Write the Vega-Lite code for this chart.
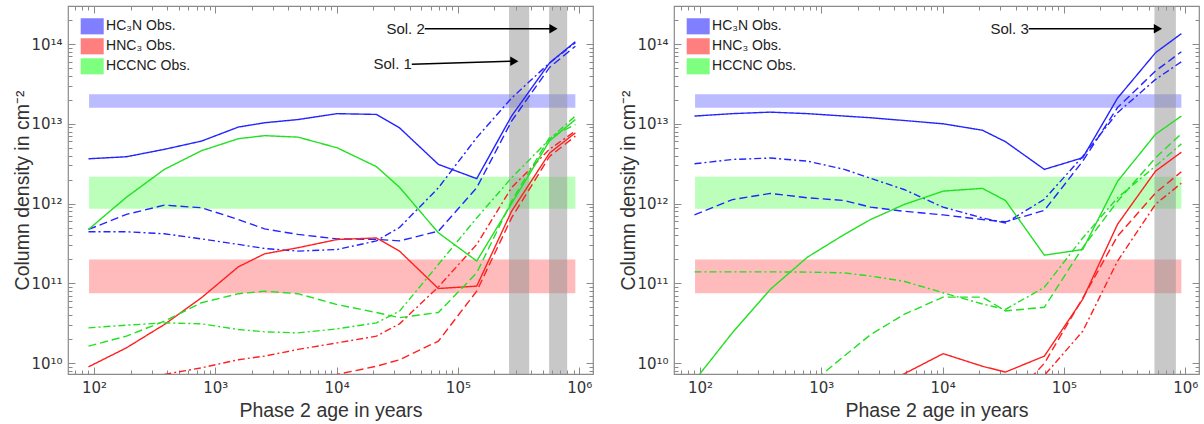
{
  "$schema": "https://vega.github.io/schema/vega-lite/v6.json",
  "background": "white",
  "padding": {"left": 12, "top": 4, "right": 0, "bottom": 0},
  "spacing": 23,
  "config": {
    "view": {"stroke": "#8a8a8a", "strokeWidth": 1.2},
    "font": "Liberation Sans",
    "axis": {"grid": false, "domain": false, "tickColor": "#8a8a8a", "tickWidth": 1, "labelFont": "DejaVu Sans", "labelFontSize": 15, "labelColor": "#333333", "titleFont": "Liberation Sans", "titleFontSize": 19.5, "titleFontWeight": "normal", "titleColor": "#333333", "labelOverlap": false, "labelFlush": false, "labelBound": false},
    "legend": {"orient": "none", "legendX": 12.7, "legendY": 8.8, "padding": 0, "title": null, "symbolType": "M-1,-0.7L1,-0.7L1,0.7L-1,0.7Z", "symbolSize": 529, "symbolStrokeWidth": 0, "symbolOpacity": 1, "labelFont": "Liberation Sans", "labelFontSize": 14, "labelColor": "#222222", "rowPadding": -2.75, "labelOffset": 2.4}
  },
  "datasets": {
    "obs": [
      {"sp": "HC₃N Obs.", "t0": 91, "t1": 930000, "n0": 1.59e13, "n1": 2.34e13},
      {"sp": "HNC₃ Obs.", "t0": 91, "t1": 930000, "n0": 7.5e10, "n1": 1.99e11},
      {"sp": "HCCNC Obs.", "t0": 91, "t1": 930000, "n0": 8.6e11, "n1": 2.16e12}
    ],
    "sol": [
      {"p": "L", "t0": 264000, "t1": 387000},
      {"p": "L", "t0": 565000, "t1": 796000},
      {"p": "R", "t0": 558000, "t1": 838000}
    ],
    "arrows": [
      {"p": "L", "label": "Sol. 1", "t0": 41700, "n0": 5.56e13, "t1": 292000, "n1": 6.1e13},
      {"p": "L", "label": "Sol. 2", "t0": 53300, "n0": 1.56e14, "t1": 614000, "n1": 1.56e14},
      {"p": "R", "label": "Sol. 3", "t0": 51300, "n0": 1.56e14, "t1": 596000, "n1": 1.56e14}
    ],
    "lines": [
      {"p":"L","s":"HC3N","m":"solid","t":90,"n":3.64e12},{"p":"L","s":"HC3N","m":"solid","t":185,"n":3.86e12},{"p":"L","s":"HC3N","m":"solid","t":380,"n":4.78e12},{"p":"L","s":"HC3N","m":"solid","t":770,"n":6.07e12},{"p":"L","s":"HC3N","m":"solid","t":1550,"n":9.1e12},{"p":"L","s":"HC3N","m":"solid","t":2550,"n":1.03e13},{"p":"L","s":"HC3N","m":"solid","t":4800,"n":1.13e13},{"p":"L","s":"HC3N","m":"solid","t":10100,"n":1.34e13},{"p":"L","s":"HC3N","m":"solid","t":21300,"n":1.31e13},{"p":"L","s":"HC3N","m":"solid","t":33000,"n":8.9e12},{"p":"L","s":"HC3N","m":"solid","t":69000,"n":3.1e12},{"p":"L","s":"HC3N","m":"solid","t":143000,"n":2.05e12},{"p":"L","s":"HC3N","m":"solid","t":277000,"n":1.25e13},{"p":"L","s":"HC3N","m":"solid","t":570000,"n":5.8e13},{"p":"L","s":"HC3N","m":"solid","t":930000,"n":1.07e14},
      {"p":"L","s":"HC3N","m":"dash","t":90,"n":4.73e11},{"p":"L","s":"HC3N","m":"dash","t":185,"n":7.3e11},{"p":"L","s":"HC3N","m":"dash","t":380,"n":9.55e11},{"p":"L","s":"HC3N","m":"dash","t":770,"n":8.85e11},{"p":"L","s":"HC3N","m":"dash","t":1550,"n":6.3e11},{"p":"L","s":"HC3N","m":"dash","t":2550,"n":4.8e11},{"p":"L","s":"HC3N","m":"dash","t":4800,"n":4.1e11},{"p":"L","s":"HC3N","m":"dash","t":10100,"n":3.6e11},{"p":"L","s":"HC3N","m":"dash","t":21300,"n":3.55e11},{"p":"L","s":"HC3N","m":"dash","t":33000,"n":3.4e11},{"p":"L","s":"HC3N","m":"dash","t":69000,"n":4.5e11},{"p":"L","s":"HC3N","m":"dash","t":143000,"n":1.58e12},{"p":"L","s":"HC3N","m":"dash","t":277000,"n":1.08e13},{"p":"L","s":"HC3N","m":"dash","t":570000,"n":5.1e13},{"p":"L","s":"HC3N","m":"dash","t":930000,"n":9.4e13},
      {"p":"L","s":"HC3N","m":"dashdot","t":90,"n":4.43e11},{"p":"L","s":"HC3N","m":"dashdot","t":185,"n":4.43e11},{"p":"L","s":"HC3N","m":"dashdot","t":380,"n":4.17e11},{"p":"L","s":"HC3N","m":"dashdot","t":770,"n":3.6e11},{"p":"L","s":"HC3N","m":"dashdot","t":1550,"n":3.07e11},{"p":"L","s":"HC3N","m":"dashdot","t":2550,"n":2.73e11},{"p":"L","s":"HC3N","m":"dashdot","t":4800,"n":2.53e11},{"p":"L","s":"HC3N","m":"dashdot","t":10100,"n":2.65e11},{"p":"L","s":"HC3N","m":"dashdot","t":21300,"n":3.4e11},{"p":"L","s":"HC3N","m":"dashdot","t":33000,"n":5.0e11},{"p":"L","s":"HC3N","m":"dashdot","t":69000,"n":1.57e12},{"p":"L","s":"HC3N","m":"dashdot","t":143000,"n":6.7e12},{"p":"L","s":"HC3N","m":"dashdot","t":277000,"n":2.1e13},{"p":"L","s":"HC3N","m":"dashdot","t":570000,"n":5.8e13},{"p":"L","s":"HC3N","m":"dashdot","t":930000,"n":1.04e14},
      {"p":"L","s":"HNC3","m":"solid","t":90,"n":8.95e9},{"p":"L","s":"HNC3","m":"solid","t":185,"n":1.55e10},{"p":"L","s":"HNC3","m":"solid","t":380,"n":3.04e10},{"p":"L","s":"HNC3","m":"solid","t":770,"n":6.6e10},{"p":"L","s":"HNC3","m":"solid","t":1550,"n":1.61e11},{"p":"L","s":"HNC3","m":"solid","t":2550,"n":2.34e11},{"p":"L","s":"HNC3","m":"solid","t":4800,"n":2.79e11},{"p":"L","s":"HNC3","m":"solid","t":10100,"n":3.54e11},{"p":"L","s":"HNC3","m":"solid","t":21300,"n":3.7e11},{"p":"L","s":"HNC3","m":"solid","t":33000,"n":2.53e11},{"p":"L","s":"HNC3","m":"solid","t":69000,"n":8.6e10},{"p":"L","s":"HNC3","m":"solid","t":143000,"n":9.2e10},{"p":"L","s":"HNC3","m":"solid","t":277000,"n":8.0e11},{"p":"L","s":"HNC3","m":"solid","t":570000,"n":4.3e12},{"p":"L","s":"HNC3","m":"solid","t":930000,"n":7.7e12},
      {"p":"L","s":"HNC3","m":"dash","t":4800,"n":5.0e9},{"p":"L","s":"HNC3","m":"dash","t":10100,"n":7.2e9},{"p":"L","s":"HNC3","m":"dash","t":21300,"n":9.1e9},{"p":"L","s":"HNC3","m":"dash","t":33000,"n":1.1e10},{"p":"L","s":"HNC3","m":"dash","t":69000,"n":1.88e10},{"p":"L","s":"HNC3","m":"dash","t":143000,"n":7.96e10},{"p":"L","s":"HNC3","m":"dash","t":277000,"n":6.6e11},{"p":"L","s":"HNC3","m":"dash","t":570000,"n":3.9e12},{"p":"L","s":"HNC3","m":"dash","t":930000,"n":7.0e12},
      {"p":"L","s":"HNC3","m":"dashdot","t":380,"n":7.2e9},{"p":"L","s":"HNC3","m":"dashdot","t":770,"n":8.7e9},{"p":"L","s":"HNC3","m":"dashdot","t":1550,"n":1.1e10},{"p":"L","s":"HNC3","m":"dashdot","t":2550,"n":1.22e10},{"p":"L","s":"HNC3","m":"dashdot","t":4800,"n":1.48e10},{"p":"L","s":"HNC3","m":"dashdot","t":10100,"n":1.79e10},{"p":"L","s":"HNC3","m":"dashdot","t":21300,"n":2.17e10},{"p":"L","s":"HNC3","m":"dashdot","t":33000,"n":3.1e10},{"p":"L","s":"HNC3","m":"dashdot","t":69000,"n":9.0e10},{"p":"L","s":"HNC3","m":"dashdot","t":143000,"n":3.07e11},{"p":"L","s":"HNC3","m":"dashdot","t":277000,"n":1.58e12},{"p":"L","s":"HNC3","m":"dashdot","t":570000,"n":4.8e12},{"p":"L","s":"HNC3","m":"dashdot","t":930000,"n":8.1e12},
      {"p":"L","s":"HCCNC","m":"solid","t":90,"n":4.73e11},{"p":"L","s":"HCCNC","m":"solid","t":185,"n":1.2e12},{"p":"L","s":"HCCNC","m":"solid","t":380,"n":2.68e12},{"p":"L","s":"HCCNC","m":"solid","t":770,"n":4.6e12},{"p":"L","s":"HCCNC","m":"solid","t":1550,"n":6.5e12},{"p":"L","s":"HCCNC","m":"solid","t":2550,"n":7.1e12},{"p":"L","s":"HCCNC","m":"solid","t":4800,"n":6.8e12},{"p":"L","s":"HCCNC","m":"solid","t":10100,"n":5.0e12},{"p":"L","s":"HCCNC","m":"solid","t":21300,"n":2.9e12},{"p":"L","s":"HCCNC","m":"solid","t":33000,"n":1.6e12},{"p":"L","s":"HCCNC","m":"solid","t":69000,"n":4.3e11},{"p":"L","s":"HCCNC","m":"solid","t":143000,"n":1.9e11},{"p":"L","s":"HCCNC","m":"solid","t":277000,"n":1.0e12},{"p":"L","s":"HCCNC","m":"solid","t":570000,"n":6.1e12},{"p":"L","s":"HCCNC","m":"solid","t":930000,"n":1.13e13},
      {"p":"L","s":"HCCNC","m":"dash","t":90,"n":1.63e10},{"p":"L","s":"HCCNC","m":"dash","t":185,"n":2.17e10},{"p":"L","s":"HCCNC","m":"dash","t":380,"n":3.35e10},{"p":"L","s":"HCCNC","m":"dash","t":770,"n":5.7e10},{"p":"L","s":"HCCNC","m":"dash","t":1550,"n":7.4e10},{"p":"L","s":"HCCNC","m":"dash","t":2550,"n":7.96e10},{"p":"L","s":"HCCNC","m":"dash","t":4800,"n":7.4e10},{"p":"L","s":"HCCNC","m":"dash","t":10100,"n":5.4e10},{"p":"L","s":"HCCNC","m":"dash","t":21300,"n":4.3e10},{"p":"L","s":"HCCNC","m":"dash","t":33000,"n":3.7e10},{"p":"L","s":"HCCNC","m":"dash","t":69000,"n":4.3e10},{"p":"L","s":"HCCNC","m":"dash","t":143000,"n":1.35e11},{"p":"L","s":"HCCNC","m":"dash","t":277000,"n":1.07e12},{"p":"L","s":"HCCNC","m":"dash","t":570000,"n":6.7e12},{"p":"L","s":"HCCNC","m":"dash","t":930000,"n":9.8e12},
      {"p":"L","s":"HCCNC","m":"dashdot","t":90,"n":2.76e10},{"p":"L","s":"HCCNC","m":"dashdot","t":185,"n":2.98e10},{"p":"L","s":"HCCNC","m":"dashdot","t":380,"n":3.19e10},{"p":"L","s":"HCCNC","m":"dashdot","t":770,"n":3.1e10},{"p":"L","s":"HCCNC","m":"dashdot","t":1550,"n":2.63e10},{"p":"L","s":"HCCNC","m":"dashdot","t":2550,"n":2.46e10},{"p":"L","s":"HCCNC","m":"dashdot","t":4800,"n":2.39e10},{"p":"L","s":"HCCNC","m":"dashdot","t":10100,"n":2.68e10},{"p":"L","s":"HCCNC","m":"dashdot","t":21300,"n":3.19e10},{"p":"L","s":"HCCNC","m":"dashdot","t":33000,"n":4.47e10},{"p":"L","s":"HCCNC","m":"dashdot","t":69000,"n":1.72e11},{"p":"L","s":"HCCNC","m":"dashdot","t":143000,"n":6.6e11},{"p":"L","s":"HCCNC","m":"dashdot","t":277000,"n":2.1e12},{"p":"L","s":"HCCNC","m":"dashdot","t":570000,"n":6.4e12},{"p":"L","s":"HCCNC","m":"dashdot","t":930000,"n":1.25e13},
      {"p":"R","s":"HC3N","m":"solid","t":90,"n":1.25e13},{"p":"R","s":"HC3N","m":"solid","t":185,"n":1.34e13},{"p":"R","s":"HC3N","m":"solid","t":380,"n":1.40e13},{"p":"R","s":"HC3N","m":"solid","t":770,"n":1.34e13},{"p":"R","s":"HC3N","m":"solid","t":1550,"n":1.25e13},{"p":"R","s":"HC3N","m":"solid","t":2550,"n":1.19e13},{"p":"R","s":"HC3N","m":"solid","t":4800,"n":1.10e13},{"p":"R","s":"HC3N","m":"solid","t":10100,"n":1.0e13},{"p":"R","s":"HC3N","m":"solid","t":21300,"n":8.3e12},{"p":"R","s":"HC3N","m":"solid","t":33000,"n":5.96e12},{"p":"R","s":"HC3N","m":"solid","t":69000,"n":2.68e12},{"p":"R","s":"HC3N","m":"solid","t":143000,"n":3.75e12},{"p":"R","s":"HC3N","m":"solid","t":277000,"n":2.1e13},{"p":"R","s":"HC3N","m":"solid","t":570000,"n":7.8e13},{"p":"R","s":"HC3N","m":"solid","t":930000,"n":1.35e14},
      {"p":"R","s":"HC3N","m":"dash","t":90,"n":7.2e11},{"p":"R","s":"HC3N","m":"dash","t":185,"n":1.12e12},{"p":"R","s":"HC3N","m":"dash","t":380,"n":1.34e12},{"p":"R","s":"HC3N","m":"dash","t":770,"n":1.18e12},{"p":"R","s":"HC3N","m":"dash","t":1550,"n":1.09e12},{"p":"R","s":"HC3N","m":"dash","t":2550,"n":9.0e11},{"p":"R","s":"HC3N","m":"dash","t":4800,"n":8.0e11},{"p":"R","s":"HC3N","m":"dash","t":10100,"n":7.2e11},{"p":"R","s":"HC3N","m":"dash","t":21300,"n":6.3e11},{"p":"R","s":"HC3N","m":"dash","t":33000,"n":5.9e11},{"p":"R","s":"HC3N","m":"dash","t":69000,"n":8.2e11},{"p":"R","s":"HC3N","m":"dash","t":143000,"n":3.4e12},{"p":"R","s":"HC3N","m":"dash","t":277000,"n":1.6e13},{"p":"R","s":"HC3N","m":"dash","t":570000,"n":4.6e13},{"p":"R","s":"HC3N","m":"dash","t":930000,"n":8.0e13},
      {"p":"R","s":"HC3N","m":"dashdot","t":90,"n":3.15e12},{"p":"R","s":"HC3N","m":"dashdot","t":185,"n":3.57e12},{"p":"R","s":"HC3N","m":"dashdot","t":380,"n":3.72e12},{"p":"R","s":"HC3N","m":"dashdot","t":770,"n":3.4e12},{"p":"R","s":"HC3N","m":"dashdot","t":1550,"n":2.68e12},{"p":"R","s":"HC3N","m":"dashdot","t":2550,"n":2.07e12},{"p":"R","s":"HC3N","m":"dashdot","t":4800,"n":1.5e12},{"p":"R","s":"HC3N","m":"dashdot","t":10100,"n":9.0e11},{"p":"R","s":"HC3N","m":"dashdot","t":21300,"n":6.6e11},{"p":"R","s":"HC3N","m":"dashdot","t":33000,"n":5.7e11},{"p":"R","s":"HC3N","m":"dashdot","t":69000,"n":1.13e12},{"p":"R","s":"HC3N","m":"dashdot","t":143000,"n":3.9e12},{"p":"R","s":"HC3N","m":"dashdot","t":277000,"n":1.38e13},{"p":"R","s":"HC3N","m":"dashdot","t":570000,"n":3.6e13},{"p":"R","s":"HC3N","m":"dashdot","t":930000,"n":6.0e13},
      {"p":"R","s":"HNC3","m":"solid","t":2550,"n":4.0e9},{"p":"R","s":"HNC3","m":"solid","t":4800,"n":7.3e9},{"p":"R","s":"HNC3","m":"solid","t":10100,"n":1.31e10},{"p":"R","s":"HNC3","m":"solid","t":21300,"n":9.1e9},{"p":"R","s":"HNC3","m":"solid","t":33000,"n":7.7e9},{"p":"R","s":"HNC3","m":"solid","t":69000,"n":1.22e10},{"p":"R","s":"HNC3","m":"solid","t":143000,"n":6.3e10},{"p":"R","s":"HNC3","m":"solid","t":277000,"n":5.5e11},{"p":"R","s":"HNC3","m":"solid","t":570000,"n":2.55e12},{"p":"R","s":"HNC3","m":"solid","t":930000,"n":4.4e12},
      {"p":"R","s":"HNC3","m":"dash","t":33000,"n":3.0e9},{"p":"R","s":"HNC3","m":"dash","t":69000,"n":9.9e9},{"p":"R","s":"HNC3","m":"dash","t":143000,"n":6.5e10},{"p":"R","s":"HNC3","m":"dash","t":277000,"n":3.9e11},{"p":"R","s":"HNC3","m":"dash","t":570000,"n":1.36e12},{"p":"R","s":"HNC3","m":"dash","t":930000,"n":2.5e12},
      {"p":"R","s":"HNC3","m":"dashdot","t":33000,"n":2.0e9},{"p":"R","s":"HNC3","m":"dashdot","t":69000,"n":7.0e9},{"p":"R","s":"HNC3","m":"dashdot","t":143000,"n":2.5e10},{"p":"R","s":"HNC3","m":"dashdot","t":277000,"n":1.9e11},{"p":"R","s":"HNC3","m":"dashdot","t":570000,"n":9.8e11},{"p":"R","s":"HNC3","m":"dashdot","t":930000,"n":1.8e12},
      {"p":"R","s":"HCCNC","m":"solid","t":90,"n":6.0e9},{"p":"R","s":"HCCNC","m":"solid","t":185,"n":2.4e10},{"p":"R","s":"HCCNC","m":"solid","t":380,"n":8.4e10},{"p":"R","s":"HCCNC","m":"solid","t":770,"n":2.13e11},{"p":"R","s":"HCCNC","m":"solid","t":1550,"n":4.1e11},{"p":"R","s":"HCCNC","m":"solid","t":2550,"n":6.3e11},{"p":"R","s":"HCCNC","m":"solid","t":4800,"n":9.7e11},{"p":"R","s":"HCCNC","m":"solid","t":10100,"n":1.43e12},{"p":"R","s":"HCCNC","m":"solid","t":21300,"n":1.55e12},{"p":"R","s":"HCCNC","m":"solid","t":33000,"n":1.09e12},{"p":"R","s":"HCCNC","m":"solid","t":69000,"n":2.25e11},{"p":"R","s":"HCCNC","m":"solid","t":143000,"n":2.65e11},{"p":"R","s":"HCCNC","m":"solid","t":277000,"n":1.9e12},{"p":"R","s":"HCCNC","m":"solid","t":570000,"n":7.4e12},{"p":"R","s":"HCCNC","m":"solid","t":930000,"n":1.25e13},
      {"p":"R","s":"HCCNC","m":"dash","t":770,"n":5.1e9},{"p":"R","s":"HCCNC","m":"dash","t":1550,"n":1.23e10},{"p":"R","s":"HCCNC","m":"dash","t":2550,"n":2.27e10},{"p":"R","s":"HCCNC","m":"dash","t":4800,"n":4.06e10},{"p":"R","s":"HCCNC","m":"dash","t":10100,"n":6.7e10},{"p":"R","s":"HCCNC","m":"dash","t":21300,"n":6.7e10},{"p":"R","s":"HCCNC","m":"dash","t":33000,"n":4.5e10},{"p":"R","s":"HCCNC","m":"dash","t":69000,"n":5.0e10},{"p":"R","s":"HCCNC","m":"dash","t":143000,"n":2.8e11},{"p":"R","s":"HCCNC","m":"dash","t":277000,"n":1.07e12},{"p":"R","s":"HCCNC","m":"dash","t":570000,"n":3.75e12},{"p":"R","s":"HCCNC","m":"dash","t":930000,"n":7.5e12},
      {"p":"R","s":"HCCNC","m":"dashdot","t":90,"n":1.39e11},{"p":"R","s":"HCCNC","m":"dashdot","t":185,"n":1.39e11},{"p":"R","s":"HCCNC","m":"dashdot","t":380,"n":1.39e11},{"p":"R","s":"HCCNC","m":"dashdot","t":770,"n":1.38e11},{"p":"R","s":"HCCNC","m":"dashdot","t":1550,"n":1.35e11},{"p":"R","s":"HCCNC","m":"dashdot","t":2550,"n":1.23e11},{"p":"R","s":"HCCNC","m":"dashdot","t":4800,"n":1.06e11},{"p":"R","s":"HCCNC","m":"dashdot","t":10100,"n":7.6e10},{"p":"R","s":"HCCNC","m":"dashdot","t":21300,"n":5.5e10},{"p":"R","s":"HCCNC","m":"dashdot","t":33000,"n":4.7e10},{"p":"R","s":"HCCNC","m":"dashdot","t":69000,"n":8.9e10},{"p":"R","s":"HCCNC","m":"dashdot","t":143000,"n":3.7e11},{"p":"R","s":"HCCNC","m":"dashdot","t":277000,"n":1.18e12},{"p":"R","s":"HCCNC","m":"dashdot","t":570000,"n":2.95e12},{"p":"R","s":"HCCNC","m":"dashdot","t":930000,"n":5.6e12}
    ]
  },
  "resolve": {"scale": {"fill": "independent"}, "legend": {"fill": "independent"}},
  "hconcat": [
    {
      "width": 525, "height": 368,
      "resolve": {"axis": {"x": "independent", "y": "independent"}},
      "layer": [
        {
          "data": {"name": "obs"},
          "mark": {"type": "rect", "fillOpacity": 0.53},
          "encoding": {
            "x": {"field": "t0", "type": "quantitative", "scale": {"type": "log", "domain": [61, 1300000], "nice": false},
              "axis": {"orient": "bottom", "values": [70,80,90,100,200,300,400,500,600,700,800,900,1000,2000,3000,4000,5000,6000,7000,8000,9000,10000,20000,30000,40000,50000,60000,70000,80000,90000,100000,200000,300000,400000,500000,600000,700000,800000,900000,1000000],
                "labelExpr": "abs(log(datum.value)/LN10 - round(log(datum.value)/LN10)) < 0.000001 ? ['10⁰','10¹','10²','10³','10⁴','10⁵','10⁶','10⁷','10⁸','10⁹','10¹⁰','10¹¹','10¹²','10¹³','10¹⁴'][round(log(datum.value)/LN10)] : ''",
                "tickSize": {"condition": {"test": "abs(log(datum.value)/LN10 - round(log(datum.value)/LN10)) < 0.000001", "value": -7}, "value": -4},
                "labelPadding": 13, "title": "Phase 2 age in years", "titlePadding": 3}},
            "x2": {"field": "t1"},
            "y": {"field": "n0", "type": "quantitative", "scale": {"type": "log", "domain": [7.28e9, 3.0e14], "nice": false},
              "axis": {"orient": "left", "values": [8e9,9e9,1e10,2e10,3e10,4e10,5e10,6e10,7e10,8e10,9e10,1e11,2e11,3e11,4e11,5e11,6e11,7e11,8e11,9e11,1e12,2e12,3e12,4e12,5e12,6e12,7e12,8e12,9e12,1e13,2e13,3e13,4e13,5e13,6e13,7e13,8e13,9e13,1e14,2e14],
                "labelExpr": "abs(log(datum.value)/LN10 - round(log(datum.value)/LN10)) < 0.000001 ? ['10⁰','10¹','10²','10³','10⁴','10⁵','10⁶','10⁷','10⁸','10⁹','10¹⁰','10¹¹','10¹²','10¹³','10¹⁴'][round(log(datum.value)/LN10)] : ''",
                "tickSize": {"condition": {"test": "abs(log(datum.value)/LN10 - round(log(datum.value)/LN10)) < 0.000001", "value": -7}, "value": -4},
                "labelPadding": 13, "title": "Column density in cm⁻²", "titlePadding": -2}},
            "y2": {"field": "n1"},
            "fill": {"field": "sp", "type": "nominal", "scale": {"domain": ["HC₃N Obs.", "HNC₃ Obs.", "HCCNC Obs."], "range": ["#7f7fff", "#ff7f7f", "#7fff7f"]}}
          }
        },
        {
          "data": {"name": "sol"},
          "transform": [{"filter": "datum.p == 'L'"}],
          "mark": {"type": "rect", "fill": "#919191", "opacity": 0.5},
          "encoding": {
            "x": {"field": "t0", "type": "quantitative", "scale": {"type": "log", "domain": [61, 1300000], "nice": false}, "axis": null},
            "x2": {"field": "t1"}
          }
        },
        {
          "data": {"name": "lines"},
          "transform": [{"filter": "datum.p == 'L'"}],
          "mark": {"type": "line", "clip": true, "strokeWidth": 1.4},
          "encoding": {
            "x": {"field": "t", "type": "quantitative", "scale": {"type": "log", "domain": [61, 1300000], "nice": false},
              "axis": {"orient": "top", "labels": false, "title": null, "values": [70,80,90,100,200,300,400,500,600,700,800,900,1000,2000,3000,4000,5000,6000,7000,8000,9000,10000,20000,30000,40000,50000,60000,70000,80000,90000,100000,200000,300000,400000,500000,600000,700000,800000,900000,1000000],
                "tickSize": {"condition": {"test": "abs(log(datum.value)/LN10 - round(log(datum.value)/LN10)) < 0.000001", "value": -7}, "value": -4}}},
            "y": {"field": "n", "type": "quantitative", "scale": {"type": "log", "domain": [7.28e9, 3.0e14], "nice": false},
              "axis": {"orient": "right", "labels": false, "title": null, "values": [8e9,9e9,1e10,2e10,3e10,4e10,5e10,6e10,7e10,8e10,9e10,1e11,2e11,3e11,4e11,5e11,6e11,7e11,8e11,9e11,1e12,2e12,3e12,4e12,5e12,6e12,7e12,8e12,9e12,1e13,2e13,3e13,4e13,5e13,6e13,7e13,8e13,9e13,1e14,2e14],
                "tickSize": {"condition": {"test": "abs(log(datum.value)/LN10 - round(log(datum.value)/LN10)) < 0.000001", "value": -7}, "value": -4}}},
            "stroke": {"field": "s", "type": "nominal", "scale": {"domain": ["HC3N", "HNC3", "HCCNC"], "range": ["#2424ff", "#ff2020", "#22e022"]}, "legend": null},
            "strokeDash": {"field": "m", "type": "nominal", "scale": {"domain": ["solid", "dash", "dashdot"], "range": [[1, 0], [8, 4], [7, 3, 2, 3]]}, "legend": null}
          }
        },
        {
          "data": {"name": "arrows"},
          "transform": [{"filter": "datum.p == 'L'"}],
          "mark": {"type": "rule", "color": "black", "strokeWidth": 1.5},
          "encoding": {
            "x": {"field": "t0", "type": "quantitative", "scale": {"type": "log", "domain": [61, 1300000], "nice": false}, "axis": null},
            "x2": {"field": "t1"},
            "y": {"field": "n0", "type": "quantitative", "scale": {"type": "log", "domain": [7.28e9, 3.0e14], "nice": false}, "axis": null},
            "y2": {"field": "n1"}
          }
        },
        {
          "data": {"name": "arrows"},
          "transform": [{"filter": "datum.p == 'L'"}],
          "mark": {"type": "point", "shape": "triangle-right", "filled": true, "size": 90, "color": "black", "opacity": 1},
          "encoding": {
            "x": {"field": "t1", "type": "quantitative", "scale": {"type": "log", "domain": [61, 1300000], "nice": false}, "axis": null},
            "y": {"field": "n1", "type": "quantitative", "scale": {"type": "log", "domain": [7.28e9, 3.0e14], "nice": false}, "axis": null}
          }
        },
        {
          "data": {"name": "arrows"},
          "transform": [{"filter": "datum.p == 'L'"}],
          "mark": {"type": "text", "align": "right", "baseline": "middle", "fontSize": 15, "font": "Liberation Sans", "color": "#222222"},
          "encoding": {
            "x": {"field": "t0", "type": "quantitative", "scale": {"type": "log", "domain": [61, 1300000], "nice": false}, "axis": null},
            "y": {"field": "n0", "type": "quantitative", "scale": {"type": "log", "domain": [7.28e9, 3.0e14], "nice": false}, "axis": null},
            "text": {"field": "label"}
          }
        }
      ]
    },
    {
      "width": 525, "height": 368,
      "resolve": {"axis": {"x": "independent", "y": "independent"}},
      "layer": [
        {
          "data": {"name": "obs"},
          "mark": {"type": "rect", "fillOpacity": 0.53},
          "encoding": {
            "x": {"field": "t0", "type": "quantitative", "scale": {"type": "log", "domain": [61, 1300000], "nice": false},
              "axis": {"orient": "bottom", "values": [70,80,90,100,200,300,400,500,600,700,800,900,1000,2000,3000,4000,5000,6000,7000,8000,9000,10000,20000,30000,40000,50000,60000,70000,80000,90000,100000,200000,300000,400000,500000,600000,700000,800000,900000,1000000],
                "labelExpr": "abs(log(datum.value)/LN10 - round(log(datum.value)/LN10)) < 0.000001 ? ['10⁰','10¹','10²','10³','10⁴','10⁵','10⁶','10⁷','10⁸','10⁹','10¹⁰','10¹¹','10¹²','10¹³','10¹⁴'][round(log(datum.value)/LN10)] : ''",
                "tickSize": {"condition": {"test": "abs(log(datum.value)/LN10 - round(log(datum.value)/LN10)) < 0.000001", "value": -7}, "value": -4},
                "labelPadding": 13, "title": "Phase 2 age in years", "titlePadding": 3}},
            "x2": {"field": "t1"},
            "y": {"field": "n0", "type": "quantitative", "scale": {"type": "log", "domain": [7.28e9, 3.0e14], "nice": false},
              "axis": {"orient": "left", "values": [8e9,9e9,1e10,2e10,3e10,4e10,5e10,6e10,7e10,8e10,9e10,1e11,2e11,3e11,4e11,5e11,6e11,7e11,8e11,9e11,1e12,2e12,3e12,4e12,5e12,6e12,7e12,8e12,9e12,1e13,2e13,3e13,4e13,5e13,6e13,7e13,8e13,9e13,1e14,2e14],
                "labelExpr": "abs(log(datum.value)/LN10 - round(log(datum.value)/LN10)) < 0.000001 ? ['10⁰','10¹','10²','10³','10⁴','10⁵','10⁶','10⁷','10⁸','10⁹','10¹⁰','10¹¹','10¹²','10¹³','10¹⁴'][round(log(datum.value)/LN10)] : ''",
                "tickSize": {"condition": {"test": "abs(log(datum.value)/LN10 - round(log(datum.value)/LN10)) < 0.000001", "value": -7}, "value": -4},
                "labelPadding": 13, "title": "Column density in cm⁻²", "titlePadding": -2}},
            "y2": {"field": "n1"},
            "fill": {"field": "sp", "type": "nominal", "scale": {"domain": ["HC₃N Obs.", "HNC₃ Obs.", "HCCNC Obs."], "range": ["#7f7fff", "#ff7f7f", "#7fff7f"]}}
          }
        },
        {
          "data": {"name": "sol"},
          "transform": [{"filter": "datum.p == 'R'"}],
          "mark": {"type": "rect", "fill": "#919191", "opacity": 0.5},
          "encoding": {
            "x": {"field": "t0", "type": "quantitative", "scale": {"type": "log", "domain": [61, 1300000], "nice": false}, "axis": null},
            "x2": {"field": "t1"}
          }
        },
        {
          "data": {"name": "lines"},
          "transform": [{"filter": "datum.p == 'R'"}],
          "mark": {"type": "line", "clip": true, "strokeWidth": 1.4},
          "encoding": {
            "x": {"field": "t", "type": "quantitative", "scale": {"type": "log", "domain": [61, 1300000], "nice": false},
              "axis": {"orient": "top", "labels": false, "title": null, "values": [70,80,90,100,200,300,400,500,600,700,800,900,1000,2000,3000,4000,5000,6000,7000,8000,9000,10000,20000,30000,40000,50000,60000,70000,80000,90000,100000,200000,300000,400000,500000,600000,700000,800000,900000,1000000],
                "tickSize": {"condition": {"test": "abs(log(datum.value)/LN10 - round(log(datum.value)/LN10)) < 0.000001", "value": -7}, "value": -4}}},
            "y": {"field": "n", "type": "quantitative", "scale": {"type": "log", "domain": [7.28e9, 3.0e14], "nice": false},
              "axis": {"orient": "right", "labels": false, "title": null, "values": [8e9,9e9,1e10,2e10,3e10,4e10,5e10,6e10,7e10,8e10,9e10,1e11,2e11,3e11,4e11,5e11,6e11,7e11,8e11,9e11,1e12,2e12,3e12,4e12,5e12,6e12,7e12,8e12,9e12,1e13,2e13,3e13,4e13,5e13,6e13,7e13,8e13,9e13,1e14,2e14],
                "tickSize": {"condition": {"test": "abs(log(datum.value)/LN10 - round(log(datum.value)/LN10)) < 0.000001", "value": -7}, "value": -4}}},
            "stroke": {"field": "s", "type": "nominal", "scale": {"domain": ["HC3N", "HNC3", "HCCNC"], "range": ["#2424ff", "#ff2020", "#22e022"]}, "legend": null},
            "strokeDash": {"field": "m", "type": "nominal", "scale": {"domain": ["solid", "dash", "dashdot"], "range": [[1, 0], [8, 4], [7, 3, 2, 3]]}, "legend": null}
          }
        },
        {
          "data": {"name": "arrows"},
          "transform": [{"filter": "datum.p == 'R'"}],
          "mark": {"type": "rule", "color": "black", "strokeWidth": 1.5},
          "encoding": {
            "x": {"field": "t0", "type": "quantitative", "scale": {"type": "log", "domain": [61, 1300000], "nice": false}, "axis": null},
            "x2": {"field": "t1"},
            "y": {"field": "n0", "type": "quantitative", "scale": {"type": "log", "domain": [7.28e9, 3.0e14], "nice": false}, "axis": null},
            "y2": {"field": "n1"}
          }
        },
        {
          "data": {"name": "arrows"},
          "transform": [{"filter": "datum.p == 'R'"}],
          "mark": {"type": "point", "shape": "triangle-right", "filled": true, "size": 90, "color": "black", "opacity": 1},
          "encoding": {
            "x": {"field": "t1", "type": "quantitative", "scale": {"type": "log", "domain": [61, 1300000], "nice": false}, "axis": null},
            "y": {"field": "n1", "type": "quantitative", "scale": {"type": "log", "domain": [7.28e9, 3.0e14], "nice": false}, "axis": null}
          }
        },
        {
          "data": {"name": "arrows"},
          "transform": [{"filter": "datum.p == 'R'"}],
          "mark": {"type": "text", "align": "right", "baseline": "middle", "fontSize": 15, "font": "Liberation Sans", "color": "#222222"},
          "encoding": {
            "x": {"field": "t0", "type": "quantitative", "scale": {"type": "log", "domain": [61, 1300000], "nice": false}, "axis": null},
            "y": {"field": "n0", "type": "quantitative", "scale": {"type": "log", "domain": [7.28e9, 3.0e14], "nice": false}, "axis": null},
            "text": {"field": "label"}
          }
        }
      ]
    }
  ]
}
